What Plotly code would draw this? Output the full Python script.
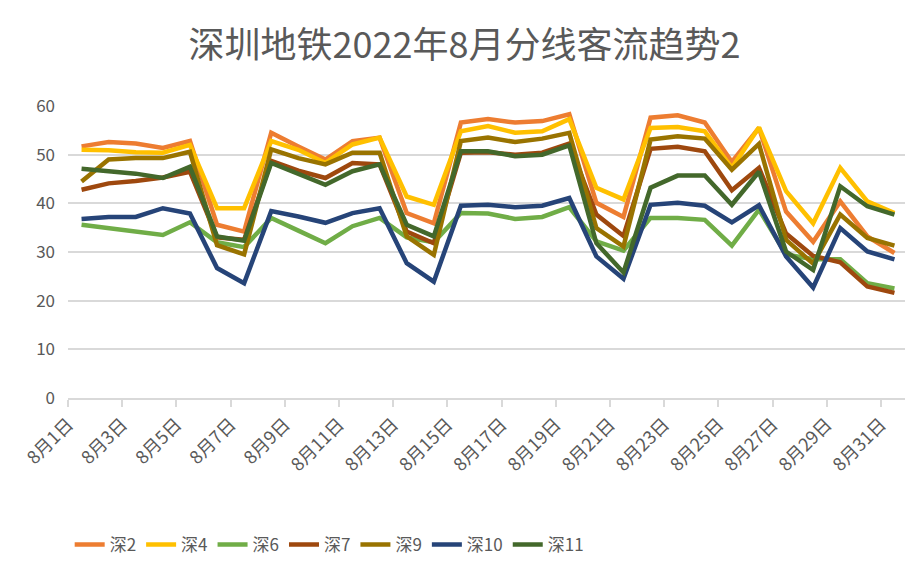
import plotly.graph_objects as go

days = list(range(1, 32))
tick_labels = [f"8月{d}日" for d in range(1, 32, 2)]

sz2 = [51.7, 52.6, 52.3, 51.4, 52.8, 35.6, 34.2, 54.5, 51.7, 49.0, 52.8, 53.5, 38.0, 35.9, 56.6, 57.3,
       56.6, 56.9, 58.3, 40.1, 37.2, 57.6, 58.1, 56.6, 48.5, 55.5, 38.3, 32.1, 40.4, 33.2, 29.8]
sz4 = [51.0, 50.9, 50.5, 50.4, 52.0, 39.0, 39.0, 52.8, 51.0, 48.3, 52.1, 53.5, 41.4, 39.7, 54.8, 55.9,
       54.5, 54.8, 57.3, 43.2, 40.8, 55.5, 55.7, 54.8, 47.3, 55.6, 42.5, 35.9, 47.3, 40.4, 38.0]
sz6 = [35.6, 34.9, 34.4, 33.5, 36.1, 32.0, 31.0, 37.0, 34.4, 31.8, 35.3, 37.0, 33.0, 32.0, 38.0, 37.9,
       36.8, 37.2, 39.2, 32.2, 30.3, 37.0, 37.0, 36.6, 31.3, 38.7, 29.5, 28.5, 28.5, 23.6, 22.5]
sz7 = [42.8, 44.1, 44.6, 45.3, 46.5, 33.0, 32.5, 48.7, 46.7, 45.2, 48.3, 48.0, 34.2, 31.8, 50.4, 50.5,
       50.0, 50.4, 52.3, 37.7, 33.3, 51.2, 51.6, 50.7, 42.7, 47.3, 33.8, 29.2, 27.9, 22.9, 21.6]
sz9 = [44.5, 49.0, 49.3, 49.3, 50.6, 31.4, 29.5, 51.1, 49.3, 48.0, 50.4, 50.4, 33.2, 29.4, 52.8, 53.5,
       52.6, 53.3, 54.5, 34.9, 31.1, 53.1, 53.8, 53.3, 46.9, 52.2, 32.5, 27.6, 37.7, 32.9, 31.3]
sz10 = [36.8, 37.2, 37.2, 39.0, 37.9, 26.7, 23.6, 38.4, 37.3, 36.0, 38.0, 39.0, 27.7, 23.9, 39.5, 39.7,
        39.2, 39.5, 41.1, 29.1, 24.5, 39.7, 40.1, 39.5, 36.1, 39.6, 29.1, 22.7, 34.9, 30.1, 28.5]
sz11 = [47.1, 46.6, 46.1, 45.2, 47.5, 33.2, 32.3, 48.3, 46.0, 43.8, 46.6, 48.0, 35.6, 33.2, 50.7, 50.7,
        49.7, 50.0, 51.9, 31.8, 25.8, 43.2, 45.7, 45.7, 39.7, 46.5, 30.1, 26.3, 43.5, 39.4, 37.7]

series = [
    ("深2", sz2, "#ED7D31"),
    ("深4", sz4, "#FFC000"),
    ("深6", sz6, "#70AD47"),
    ("深7", sz7, "#9E480E"),
    ("深9", sz9, "#997300"),
    ("深10", sz10, "#264478"),
    ("深11", sz11, "#43682B"),
]

font = "Noto Sans CJK SC, Microsoft YaHei, sans-serif"
grey = "#595959"

fig = go.Figure()
for name, vals, col in series:
    fig.add_trace(go.Scatter(x=days, y=vals, name=name, mode="lines",
                             line=dict(color=col, width=4.5)))

# page has an 8px body margin, margins below are set for that
fig.update_layout(
    width=913, height=568,
    margin=dict(l=49, r=13, t=98, b=178),
    paper_bgcolor="white", plot_bgcolor="white",
    title=dict(text="深圳地铁2022年8月分线客流趋势2", x=0.5, xanchor="center",
               y=0.935, yanchor="middle", font=dict(family=font, size=36, color=grey)),
    font=dict(family=font, color=grey),
    legend=dict(orientation="h", x=0.002, xanchor="left", y=-0.503, yanchor="middle",
                font=dict(size=17, color=grey), itemwidth=30, traceorder="normal"),
    showlegend=True,
)
fig.update_xaxes(
    range=[0.5, 31.5], tickvals=[d - 0.5 for d in range(1, 32, 2)], ticktext=tick_labels,
    tickangle=-45, tickfont=dict(size=18, color=grey), showgrid=False, zeroline=False,
    showline=True, linecolor="#d9d9d9", linewidth=1.5,
    ticks="outside", ticklen=7, tickcolor="#d9d9d9", tickwidth=1.5,
)
fig.update_yaxes(
    range=[0, 60], dtick=10, tickfont=dict(size=17, color=grey),
    showgrid=True, gridcolor="#d9d9d9", gridwidth=1.5, zeroline=False, showline=False,
    ticklabelstandoff=12,
)

fig.write_html("out.html")
